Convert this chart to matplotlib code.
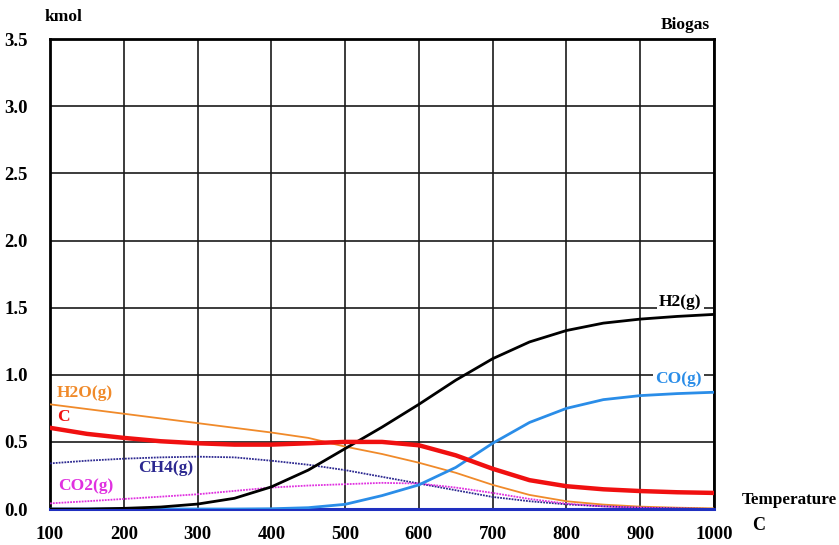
import numpy as np
import matplotlib.pyplot as plt

# equilibrium composition of biogas vs temperature (kmol)
temp = [100, 150, 200, 250, 300, 350, 400, 450, 500, 550, 600, 650, 700, 750, 800, 850, 900, 950, 1000]
h2 = [0.0, 0.0, 0.005, 0.015, 0.037, 0.08, 0.165, 0.29, 0.45, 0.61, 0.78, 0.96, 1.12, 1.245, 1.33, 1.385, 1.415, 1.435, 1.45]
co = [0.0, 0.0, 0.0, 0.0, 0.0, 0.0, 0.002, 0.01, 0.035, 0.10, 0.18, 0.31, 0.49, 0.645, 0.75, 0.815, 0.845, 0.86, 0.87]
c = [0.605, 0.56, 0.53, 0.505, 0.49, 0.48, 0.48, 0.49, 0.50, 0.50, 0.475, 0.40, 0.30, 0.215, 0.17, 0.147, 0.134, 0.125, 0.12]
h2o = [0.78, 0.745, 0.71, 0.675, 0.64, 0.605, 0.57, 0.53, 0.465, 0.41, 0.345, 0.27, 0.18, 0.105, 0.058, 0.033, 0.018, 0.01, 0.005]
ch4 = [0.34, 0.36, 0.375, 0.385, 0.39, 0.385, 0.36, 0.33, 0.29, 0.24, 0.19, 0.14, 0.09, 0.058, 0.035, 0.02, 0.01, 0.005, 0.0]
co2 = [0.042, 0.058, 0.075, 0.092, 0.11, 0.135, 0.16, 0.175, 0.185, 0.195, 0.19, 0.16, 0.12, 0.075, 0.04, 0.02, 0.01, 0.004, 0.0]
zero = [0.0] * len(temp)

xticks = [100, 200, 300, 400, 500, 600, 700, 800, 900, 1000]
yticks = [0.0, 0.5, 1.0, 1.5, 2.0, 2.5, 3.0, 3.5]

plt.rcParams['font.family'] = ['Liberation Serif', 'DejaVu Serif']
plt.rcParams['font.weight'] = 'bold'

fig = plt.figure(figsize=(8.39, 5.45), dpi=100)
ax = fig.add_axes([0.0596, 0.066, 0.7914, 0.862])

col_h2 = 'black'
col_co = '#2a8de8'
col_c = '#f01010'
col_h2o = '#f08a2a'
col_ch4 = '#2c2890'
col_co2 = '#e030e0'

ax.plot(temp, h2o, color=col_h2o, lw=1.3, zorder=3)
ax.plot(temp, ch4, color=col_ch4, lw=1.3, ls=(0, (1, 0.6)), zorder=3)
ax.plot(temp, co2, color=col_co2, lw=1.3, ls=(0, (1, 0.6)), zorder=3)
ax.plot(temp, zero, color='#2030c0', lw=2.2, zorder=3, clip_on=False)
ax.plot(temp, co, color=col_co, lw=2.0, zorder=4)
ax.plot(temp, h2, color=col_h2, lw=2.0, zorder=4)
ax.plot(temp, c, color=col_c, lw=3.2, zorder=5)

ax.set_xlim(100, 1000)
ax.set_ylim(0, 3.5)
ax.set_xticks(xticks)
ax.set_yticks(yticks)
ax.set_yticklabels([f'{v:.1f}' for v in yticks])
ax.tick_params(length=0, labelsize=13.5, pad=14)
ax.tick_params(axis='x', pad=12)
ax.tick_params(axis='y', pad=16)
ax.grid(True, color='#1a1a1a', lw=1.2, zorder=1)
ax.set_axisbelow(True)
for s in ax.spines.values():
    s.set_linewidth(2)

# curve labels
fs = 12.5
ax.text(109, 0.864, 'H2O(g)', color=col_h2o, fontsize=fs, va='center')
ax.text(109.5, 0.685, 'C', color=col_c, fontsize=fs, va='center')
ax.text(219, 0.305, 'CH4(g)', color=col_ch4, fontsize=fs, va='center')
ax.text(111, 0.171, 'CO2(g)', color=col_co2, fontsize=fs, va='center')
ax.text(983, 1.544, 'H2(g)', color='black', fontsize=fs, ha='right', va='center',
        bbox=dict(facecolor='white', edgecolor='none', pad=1.5), zorder=6)
ax.text(983, 0.968, 'CO(g)', color=col_co, fontsize=fs, ha='right', va='center',
        bbox=dict(facecolor='white', edgecolor='none', pad=1.5), zorder=6)

fig.text(0.0536, 0.969, 'kmol', fontsize=12.5, ha='left', va='center')
fig.text(0.846, 0.954, 'Biogas', fontsize=12.5, ha='right', va='center')
fig.text(0.884, 0.0826, 'Temperature', fontsize=12.3, ha='left', va='center')
fig.text(0.897, 0.035, 'C', fontsize=13, ha='left', va='center')

fig.savefig('out.png', dpi=100)
